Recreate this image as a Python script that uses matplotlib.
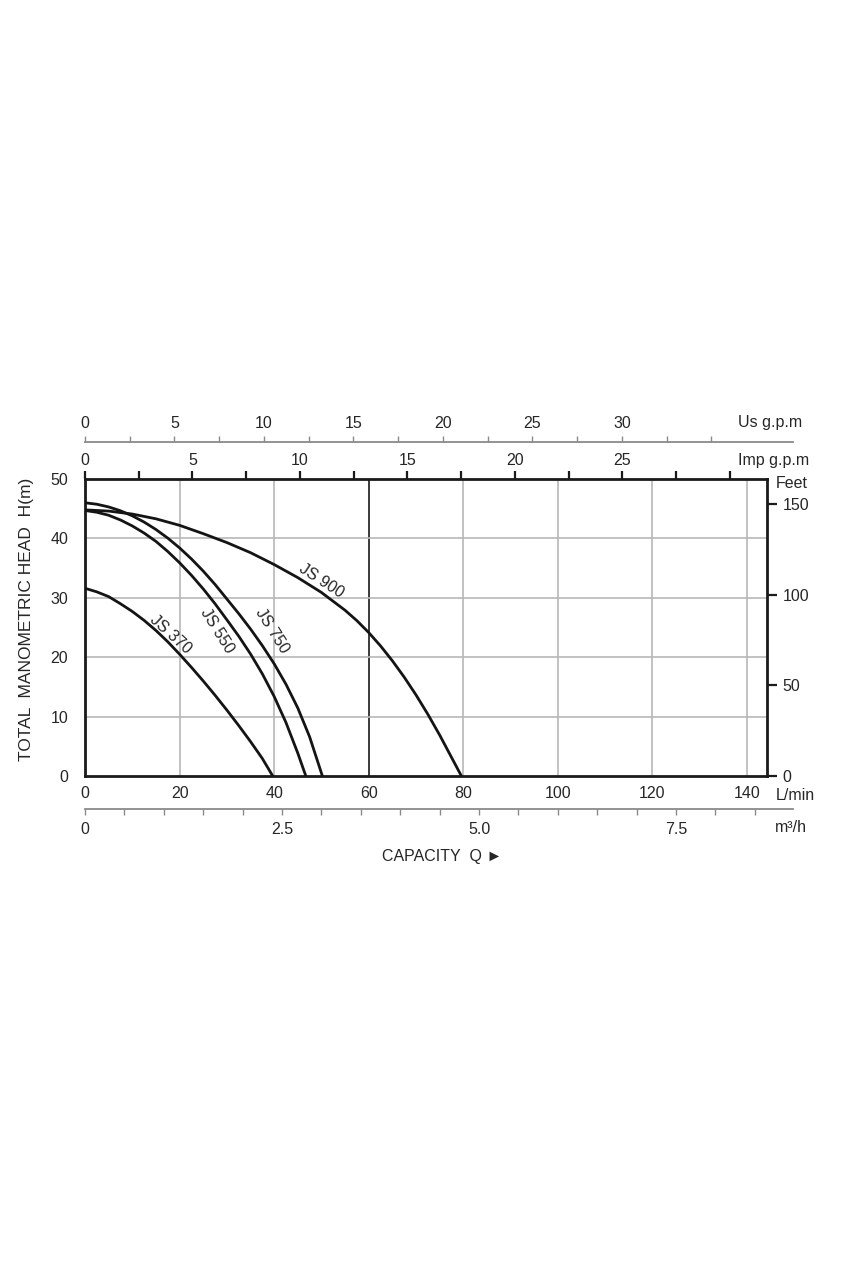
import numpy as np
import matplotlib
matplotlib.use("Agg")
import matplotlib.pyplot as plt
from matplotlib.ticker import FixedLocator, FuncFormatter, NullFormatter

plt.rcParams['font.family'] = ['Liberation Sans', 'DejaVu Sans']

# ---- data ----
q_370 = [0, 2.5, 5, 7.5, 10, 12.5, 15, 17.5, 20, 22.5, 25, 27.5, 30, 32.5, 35, 37.5, 39.7]
h_370 = [31.6, 31.0, 30.2, 29.0, 27.7, 26.2, 24.5, 22.6, 20.5, 18.3, 16.0, 13.6, 11.1,
         8.5, 5.8, 2.95, 0]

q_550 = [0, 2.5, 5, 7.5, 10, 12.5, 15, 17.5, 20, 22.5, 25, 27.5, 30, 32.5, 35, 37.5,
         40, 42.5, 45, 46.7]
h_550 = [44.7, 44.4, 43.9, 43.1, 42.1, 40.9, 39.5, 37.8, 35.9, 33.8, 31.5, 29.0, 26.3,
         23.55, 20.55, 17.2, 13.4, 9.0, 3.85, 0]

q_750 = [0, 2.5, 5, 7.5, 10, 12.5, 15, 17.5, 20, 22.5, 25, 27.5, 30, 32.5, 35, 37.5,
         40, 42.5, 45, 47.5, 50.2]
h_750 = [46.0, 45.75, 45.3, 44.65, 43.8, 42.75, 41.5, 40.05, 38.4, 36.55, 34.5, 32.25,
         29.8, 27.35, 24.75, 21.95, 18.9, 15.45, 11.45, 6.6, 0]

q_900 = [0, 5, 10, 15, 20, 25, 30, 35, 40, 45, 50, 55, 57.5, 60, 62.5, 65, 67.5, 70,
         72.5, 75, 77.5, 79.6]
h_900 = [44.8, 44.6, 44.1, 43.3, 42.2, 40.8, 39.3, 37.6, 35.6, 33.4, 30.9, 27.9, 26.15,
         24.15, 21.9, 19.4, 16.65, 13.65, 10.4, 6.9, 3.15, 0]

models = ["JS 370", "JS 550", "JS 750", "JS 900"]

lmin_ticks = [0, 20, 40, 60, 80, 100, 120, 140]
head_ticks = [0, 10, 20, 30, 40, 50]
feet_ticks = [0, 50, 100, 150]
imp_labels = [0, 5, 10, 15, 20, 25]
us_labels = [0, 5, 10, 15, 20, 25, 30]
m3h_labels = [0, 2.5, 5.0, 7.5]

LMIN_PER_IMP = 4.546
LMIN_PER_US = 3.785
LMIN_PER_M3H = 1000 / 60.0
FT_PER_M = 3.281

TXT = '#262626'
FS = 11.5

W, H = 853, 1280
fig = plt.figure(figsize=(W / 100, H / 100), dpi=100)

def fx(px):
    return px / W

def fy(py):
    return 1 - py / H

X0, X1, Y0, Y1 = 85, 767, 479, 776
PX_PER_LMIN = (747 - 85) / 140.0
xmax = (X1 - X0) / PX_PER_LMIN
ax = fig.add_axes([fx(X0), fy(Y1), fx(X1) - fx(X0), fy(Y0) - fy(Y1)])
ax.set_xlim(0, xmax)
ax.set_ylim(0, 50)

# grid
for v in lmin_ticks[1:]:
    ax.axvline(v, color='#3a3a3a' if v == 60 else '#b8b8b8',
               lw=1.4 if v == 60 else 1.2, zorder=1)
for v in head_ticks[1:-1]:
    ax.axhline(v, color='#b8b8b8', lw=1.2, zorder=1)

for q, h in [(q_370, h_370), (q_550, h_550), (q_750, h_750), (q_900, h_900)]:
    ax.plot(q, h, color='#141414', lw=2.0, solid_capstyle='round',
            solid_joinstyle='round', zorder=3)

# curve labels
lab_pos = [(18.0, 23.8, -42), (28.0, 24.5, -58), (39.5, 24.5, -58), (50.0, 32.9, -33)]
for name, (qx, hy, rot) in zip(models, lab_pos):
    ax.text(qx, hy, name, rotation=rot, ha='center', va='center',
            fontsize=FS, color=TXT, rotation_mode='anchor')

for s in ax.spines.values():
    s.set_linewidth(2.0)
    s.set_color('#1a1a1a')

ax.set_xticks(lmin_ticks)
ax.set_yticks(head_ticks)
ax.tick_params(axis='both', length=0, labelsize=FS, labelcolor=TXT)
ax.tick_params(axis='x', pad=7)
ax.tick_params(axis='y', pad=12)

# y label
fig.text(fx(27), fy(619), 'TOTAL  MANOMETRIC HEAD  H(m)', fontsize=12.5, color=TXT,
         rotation=90, ha='center', va='center')

# right feet axis
sec_r = ax.secondary_yaxis('right', functions=(lambda m: m * FT_PER_M, lambda f: f / FT_PER_M))
sec_r.set_yticks(feet_ticks)
sec_r.tick_params(axis='y', direction='out', length=7, width=1.6, color='#1a1a1a',
                  labelsize=FS, labelcolor=TXT, pad=4)
sec_r.spines['right'].set_visible(False)

# top imperial gpm axis
sec_t = ax.secondary_xaxis('top', functions=(lambda l: l / LMIN_PER_IMP, lambda g: g * LMIN_PER_IMP))
imp_ticks = np.arange(0, 30.1, 2.5)
sec_t.xaxis.set_major_locator(FixedLocator(imp_ticks))
sec_t.xaxis.set_major_formatter(FuncFormatter(
    lambda v, p: f"{v:.0f}" if any(abs(v - t) < 1e-6 for t in imp_labels) else ""))
sec_t.tick_params(axis='x', direction='out', length=6, width=1.6, color='#1a1a1a',
                  labelsize=FS, labelcolor=TXT, pad=2)
sec_t.spines['top'].set_visible(False)

# US gpm axis (separate line above)
UX1 = 793
ax_us = fig.add_axes([fx(X0), fy(442), fx(UX1) - fx(X0), 0.0001])
ax_us.set_xlim(0, (UX1 - X0) / PX_PER_LMIN / LMIN_PER_US)
ax_us.set_ylim(0, 1)
for k in ['left', 'right', 'bottom']:
    ax_us.spines[k].set_visible(False)
ax_us.spines['top'].set_color('#8a8a8a')
ax_us.spines['top'].set_linewidth(1.3)
ax_us.set_yticks([])
ax_us.xaxis.tick_top()
ax_us.xaxis.set_major_locator(FixedLocator(np.arange(0, 35.1, 2.5)))
ax_us.xaxis.set_major_formatter(FuncFormatter(
    lambda v, p: f"{v:.0f}" if any(abs(v - t) < 1e-6 for t in us_labels) else ""))
ax_us.tick_params(axis='x', direction='out', length=4, width=1.0, color='#8a8a8a',
                  labelsize=FS, labelcolor=TXT, pad=4)

# m3/h axis (separate line below)
ax_m3 = fig.add_axes([fx(X0), fy(809), fx(UX1) - fx(X0), 0.0001])
ax_m3.set_xlim(0, (UX1 - X0) / PX_PER_LMIN / LMIN_PER_M3H)
ax_m3.set_ylim(0, 1)
for k in ['left', 'right', 'top']:
    ax_m3.spines[k].set_visible(False)
ax_m3.spines['bottom'].set_color('#8a8a8a')
ax_m3.spines['bottom'].set_linewidth(1.3)
ax_m3.set_yticks([])
ax_m3.xaxis.set_major_locator(FixedLocator(m3h_labels))
ax_m3.xaxis.set_major_formatter(FuncFormatter(lambda v, p: "0" if v == 0 else f"{v:.1f}"))
ax_m3.xaxis.set_minor_locator(FixedLocator(np.arange(0, 8.51, 0.5)))
ax_m3.xaxis.set_minor_formatter(NullFormatter())
ax_m3.tick_params(axis='x', which='both', direction='out', length=4, width=1.0,
                  color='#8a8a8a', labelsize=FS, labelcolor=TXT, pad=5)

# unit labels
fig.text(fx(738), fy(423), 'Us g.p.m', fontsize=FS, color=TXT, ha='left', va='center')
fig.text(fx(738), fy(461), 'Imp g.p.m', fontsize=FS, color=TXT, ha='left', va='center')
fig.text(fx(776), fy(483), 'Feet', fontsize=FS, color=TXT, ha='left', va='center')
fig.text(fx(776), fy(795), 'L/min', fontsize=FS, color=TXT, ha='left', va='center')
fig.text(fx(775), fy(827), 'm³/h', fontsize=FS, color=TXT, ha='left', va='center')
fig.text(fx(442), fy(857), 'CAPACITY  Q ►', fontsize=FS, color=TXT, ha='center', va='center')

fig.savefig('out.png', dpi=100, facecolor='white')
